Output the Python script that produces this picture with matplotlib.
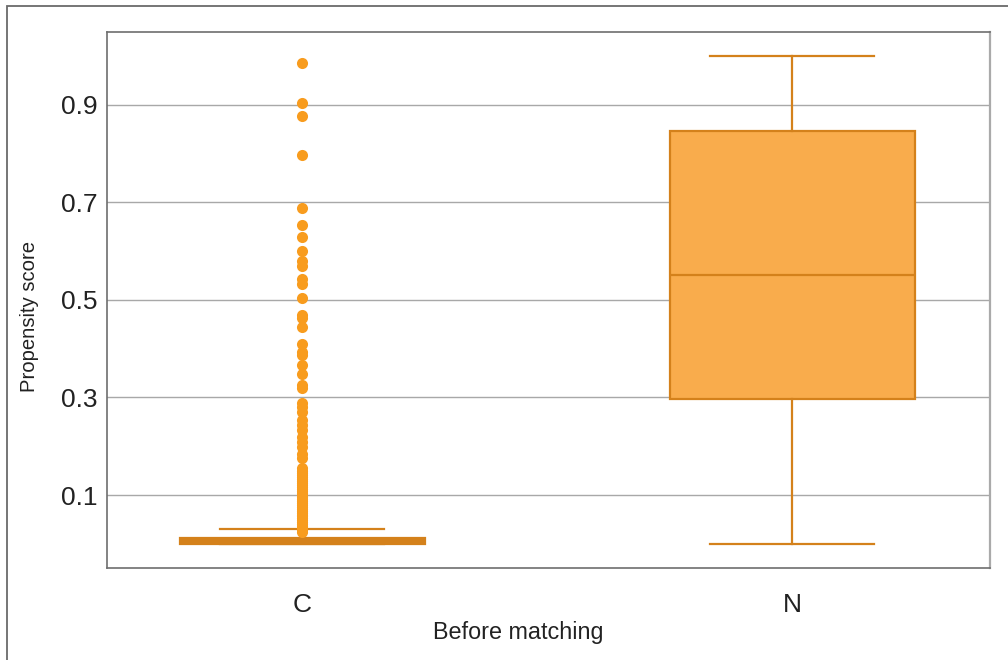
import matplotlib
matplotlib.use("Agg")
import matplotlib.pyplot as plt
from matplotlib.patches import Rectangle

plt.rcParams['font.family'] = ['Liberation Sans', 'DejaVu Sans']

# propensity scores, five-number summary per group
groups = ['C', 'N']
q1 = [0.0, 0.297]
median = [0.005, 0.551]
q3 = [0.012, 0.846]
whisker_low = [0.0, 0.0]
whisker_high = [0.030, 1.0]

# outlying scores in the control group
c_outliers = [0.985, 0.904, 0.876, 0.797, 0.688, 0.653, 0.628, 0.600, 0.580,
              0.569, 0.542, 0.532, 0.503, 0.469, 0.462, 0.444, 0.409, 0.394,
              0.387, 0.366, 0.348, 0.325, 0.319, 0.288, 0.281, 0.271, 0.254,
              0.243, 0.233, 0.219, 0.209, 0.199, 0.185, 0.175, 0.155, 0.150,
              0.146, 0.141, 0.137, 0.132, 0.128, 0.124, 0.120, 0.116, 0.112,
              0.108, 0.104, 0.100, 0.096, 0.092, 0.088, 0.084, 0.080, 0.076,
              0.072, 0.068, 0.064, 0.060, 0.056, 0.052, 0.048, 0.044, 0.040,
              0.036, 0.032, 0.028, 0.025]
n_outliers = []

y_ticks = [0.1, 0.3, 0.5, 0.7, 0.9]

FILL = '#f9ac4c'
EDGE = '#d4811b'
POINT = '#f89c1e'

fig = plt.figure(figsize=(10.08, 6.6), dpi=100)
ax = fig.add_axes([107 / 1008, 1 - 568 / 660, 883 / 1008, 536 / 660])

stats = []
for i, name in enumerate(groups):
    stats.append({
        'label': name,
        'q1': q1[i], 'med': median[i], 'q3': q3[i],
        'whislo': whisker_low[i], 'whishi': whisker_high[i],
        'fliers': c_outliers if name == 'C' else n_outliers,
    })

parts = ax.bxp(stats, positions=[0, 1], widths=0.5, capwidths=0.335,
               patch_artist=True, showfliers=True,
               boxprops=dict(facecolor=FILL, edgecolor=EDGE, linewidth=1.6),
               medianprops=dict(color=EDGE, linewidth=1.6),
               whiskerprops=dict(color=EDGE, linewidth=1.6),
               capprops=dict(color=EDGE, linewidth=1.6),
               flierprops=dict(marker='o', markersize=8, markerfacecolor=POINT,
                               markeredgecolor=POINT, markeredgewidth=0,
                               linestyle='none'),
               zorder=3)

# the control box is squashed to a sliver, so its thick median fills it
parts['medians'][0].set_linewidth(3.2)
parts['boxes'][0].set_facecolor(EDGE)

ax.set_xlim(-0.398, 1.404)
ax.set_ylim(-0.0496, 1.049)
ax.set_yticks(y_ticks)
ax.set_yticklabels([f'{v:.1f}' for v in y_ticks])
ax.set_xticks([0, 1])
ax.set_xticklabels(groups)
ax.tick_params(axis='y', length=0, pad=7, labelsize=19, colors='#222222')
ax.tick_params(axis='x', length=0, pad=18, labelsize=19, colors='#222222')

ax.yaxis.grid(True, color='#a8a8a8', linewidth=1.0, zorder=0)
ax.set_axisbelow(True)

for side in ['left', 'top', 'bottom']:
    ax.spines[side].set_color('#6e6e6e')
    ax.spines[side].set_linewidth(1.2)
ax.spines['right'].set_color('#aaaaaa')
ax.spines['right'].set_linewidth(1.6)

fig.text(30 / 1008, 1 - 316 / 660, 'Propensity score', rotation=90,
         ha='center', va='center', fontsize=14.6, color='#222222')
fig.text(518 / 1008, 1 - 633 / 660, 'Before matching',
         ha='center', va='center', fontsize=16.8, color='#222222')

# frame around the panel, running off the right and bottom edges
fig.patches.append(Rectangle((7 / 1008, -0.05), 1.1, 1 - 5.5 / 660 + 0.05,
                             transform=fig.transFigure, fill=False,
                             edgecolor='#6a6a6a', linewidth=1.3))

fig.savefig('out.png', dpi=100)
